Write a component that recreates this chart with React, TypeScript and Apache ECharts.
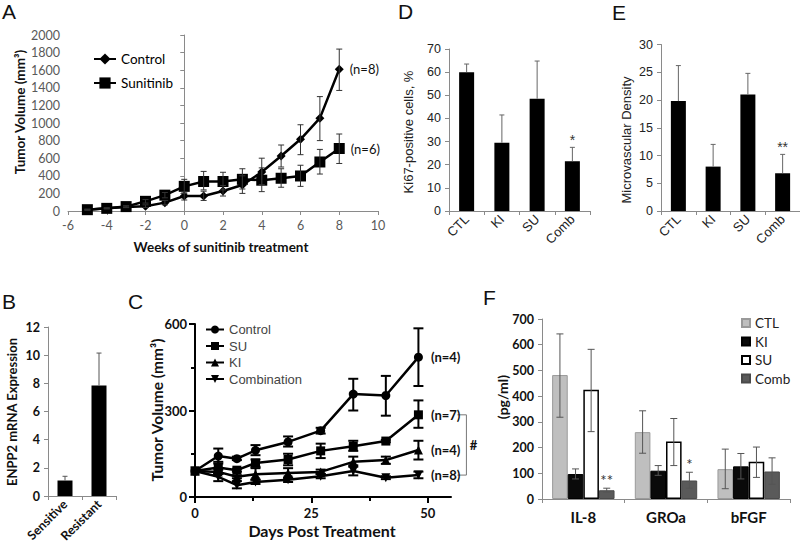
import { useEffect, useRef } from "react";
import * as echarts from "echarts";

// ---------- Panel A ----------
const weeksA = [-5, -4, -3, -2, -1, 0, 1, 2, 3, 4, 5, 6, 7, 8];
const controlA = [15, 30, 45, 55, 95, 170, 170, 227, 295, 443, 625, 815, 1055, 1610];
const controlALow = [10, 25, 38, 40, 70, 125, 120, 170, 200, 300, 500, 640, 800, 1370];
const controlAHigh = [20, 35, 55, 70, 120, 215, 225, 290, 400, 600, 750, 980, 1300, 1840];
const sunitinibA = [15, 30, 50, 110, 180, 280, 335, 335, 360, 350, 372, 398, 557, 710];
const sunitinibALow = [10, 25, 40, 90, 150, 200, 240, 240, 250, 220, 270, 280, 420, 540];
const sunitinibAHigh = [20, 35, 60, 130, 210, 360, 450, 440, 480, 490, 480, 520, 700, 875];
const nLabelsA = ["(n=8)", "(n=6)"];

// ---------- Panel D / E ----------
const catsDE = ["CTL", "KI", "SU", "Comb"];
const ki67 = [60, 29.5, 48.5, 21.5];
const ki67Err = [63.5, 41.5, 64.8, 27.5];
const ki67Sig = ["", "", "", "*"];
const mvd = [19.8, 8, 21, 6.8];
const mvdErr = [26.2, 12, 24.8, 10.2];
const mvdSig = ["", "", "", "**"];

// ---------- Panel B ----------
const catsB = ["Sensitive", "Resistant"];
const enpp2 = [1.1, 7.85];
const enpp2Err = [1.4, 10.15];

// ---------- Panel C ----------
const daysC = [0, 5, 9, 13, 20, 27, 34, 41, 48];
const controlC = [90, 142, 133, 162, 191, 230, 357, 352, 485];
const controlCLow = [90, 116, 128, 145, 175, 220, 300, 282, 385];
const controlCHigh = [90, 168, 140, 180, 210, 240, 410, 420, 585];
const suC = [90, 102, 93, 118, 130, 160, 176, 194, 285];
const suCLow = [90, 82, 88, 105, 110, 135, 160, 190, 240];
const suCHigh = [90, 122, 98, 130, 150, 185, 195, 198, 335];
const kiC = [90, 87, 70, 79, 83, 87, 122, 128, 163];
const kiCLow = [90, 80, 65, 60, 65, 80, 105, 115, 130];
const kiCHigh = [90, 95, 75, 100, 100, 95, 140, 140, 195];
const combC = [90, 70, 41, 52, 60, 72, 90, 67, 76];
const combCLow = [90, 55, 30, 45, 52, 65, 75, 62, 65];
const combCHigh = [90, 80, 55, 60, 68, 80, 110, 72, 88];
const namesC = ["Control", "SU", "KI", "Combination"];
const nLabelsC = ["(n=4)", "(n=7)", "(n=4)", "(n=8)"];
const majorTicksC = [0, 25, 50];
const minorTicksC = [12.5, 37.5];

// ---------- Panel F ----------
const cytokines = ["IL-8", "GROa", "bFGF"];
const groupsF = ["CTL", "KI", "SU", "Comb"];
const ctlF = [482, 260, 116];
const kiF = [97, 110, 127];
const suF = [425, 224, 145];
const combF = [34, 72, 107];
const ctlFLow = [318, 178, 40];
const ctlFHigh = [642, 343, 194];
const kiFLow = [78, 92, 78];
const kiFHigh = [117, 130, 177];
const suFLow = [262, 130, 84];
const suFHigh = [582, 313, 202];
const combFLow = [27, 42, 57];
const combFHigh = [42, 104, 160];
const combFSig = ["**", "*", ""];

const CAL = "Lato, 'Open Sans', sans-serif";
const ARIAL = "'Liberation Sans', Arial, sans-serif";

type ErrOpts = {
  x: number;
  rows: number[][];
  color: string;
  width: number;
  cap: number;
  offset?: number;
  upperOnly?: boolean;
  sig?: string[];
  sigFont?: string;
  sigGap?: number;
};

function errSeries(o: ErrOpts): any {
  return {
    type: "custom",
    xAxisIndex: o.x,
    yAxisIndex: o.x,
    silent: true,
    z: 5,
    data: o.rows,
    renderItem: (params: any, api: any) => {
      const xv = api.value(0);
      const lo = api.value(1);
      const hi = api.value(2);
      const p1 = api.coord([xv, lo]);
      const p2 = api.coord([xv, hi]);
      const cx = p1[0] + (o.offset || 0);
      const children: any[] = [];
      const st = { stroke: o.color, lineWidth: o.width };
      if (Math.abs(p1[1] - p2[1]) > 0.5) {
        children.push({ type: "line", shape: { x1: cx, y1: p1[1], x2: cx, y2: p2[1] }, style: st });
        children.push({ type: "line", shape: { x1: cx - o.cap / 2, y1: p2[1], x2: cx + o.cap / 2, y2: p2[1] }, style: st });
        if (!o.upperOnly)
          children.push({ type: "line", shape: { x1: cx - o.cap / 2, y1: p1[1], x2: cx + o.cap / 2, y2: p1[1] }, style: st });
      }
      const s = o.sig ? o.sig[params.dataIndex] : "";
      if (s) {
        children.push({
          type: "text",
          style: {
            text: s,
            x: cx,
            y: p2[1] - (o.sigGap ?? 2),
            align: "center",
            verticalAlign: "bottom",
            font: o.sigFont || `14px ${ARIAL}`,
            fill: "#333",
          },
        });
      }
      return { type: "group", children };
    },
  };
}

function lastLabel(xs: number[], ys: number[], text: string, font: { size: number; weight: string; family: string; dist: number }) {
  return xs.map((x, i) =>
    i === xs.length - 1
      ? {
          value: [x, ys[i]],
          label: {
            show: true,
            position: "right",
            distance: font.dist,
            formatter: text,
            fontSize: font.size,
            fontWeight: font.weight,
            fontFamily: font.family,
            color: "#111",
          },
        }
      : [x, ys[i]]
  );
}

const plain = (v: number) => String(v);

const grayAxis = (extra: any = {}) => ({
  axisLine: { show: true, lineStyle: { color: "#8a8a8a", width: 1 } },
  axisTick: { show: true, length: 4, lineStyle: { color: "#8a8a8a" } },
  splitLine: { show: false },
  ...extra,
});

export default function App() {
  const ref = useRef<HTMLDivElement>(null);
  useEffect(() => {
    if (!ref.current) return;
    const chart = echarts.init(ref.current, undefined, { renderer: "svg" });

    const grid = [
      { left: 68, top: 35, width: 310, height: 176 }, // A
      { left: 449, top: 49, width: 141, height: 162 }, // D
      { left: 661, top: 44.5, width: 139, height: 166.5 }, // E
      { left: 48, top: 327, width: 68, height: 169 }, // B
      { left: 195, top: 324, width: 256, height: 173 }, // C
      { left: 542, top: 319, width: 248, height: 180 }, // F
    ].map((g) => ({ ...g, outerBoundsMode: "none", containLabel: false }));

    const labA = { color: "#595959", fontFamily: CAL, fontSize: 12.5, margin: 8, formatter: plain };
    const labDE = { color: "#222", fontFamily: ARIAL, fontSize: 12.5, margin: 8, formatter: plain };
    const blackAxis = {
      axisLine: { show: true, lineStyle: { color: "#000", width: 2 } },
      axisTick: { show: true, length: 6, lineStyle: { color: "#000", width: 2 } },
      splitLine: { show: false },
    };
    const boldLab = { color: "#111", fontFamily: CAL, fontWeight: "bold", fontSize: 12.5, margin: 8, formatter: plain };

    const xAxis: any[] = [
      { gridIndex: 0, type: "value", min: -6, max: 10, interval: 2, ...grayAxis(), axisLabel: labA },
      { gridIndex: 1, type: "category", data: catsDE, ...grayAxis(), axisLabel: { ...labDE, formatter: undefined, rotate: 45, fontSize: 13, margin: 6 } },
      { gridIndex: 2, type: "category", data: catsDE, ...grayAxis(), axisLabel: { ...labDE, formatter: undefined, rotate: 45, fontSize: 13, margin: 6 } },
      { gridIndex: 3, type: "category", data: catsB, ...grayAxis(), axisLabel: { ...boldLab, formatter: undefined, rotate: 45, margin: 6 } },
      {
        gridIndex: 4, type: "value", min: 0, max: 55, position: "bottom", ...blackAxis,
        axisTick: { ...blackAxis.axisTick, customValues: majorTicksC },
        axisLabel: { ...boldLab, customValues: majorTicksC, fontSize: 13, margin: 9 },
      },
      { gridIndex: 5, type: "category", data: cytokines, ...grayAxis(), axisLabel: { color: "#111", fontFamily: CAL, fontWeight: "bold", fontSize: 15, margin: 10 } },
      // minor ticks for C
      {
        gridIndex: 4, type: "value", min: 0, max: 55, position: "bottom", offset: 0,
        axisLine: { show: false }, splitLine: { show: false },
        axisTick: { show: true, length: 4, customValues: minorTicksC, lineStyle: { color: "#000", width: 2 } },
        axisLabel: { show: false },
      },
    ];
    const yAxis: any[] = [
      { gridIndex: 0, type: "value", min: 0, max: 2000, interval: 200, ...grayAxis(), axisLabel: labA },
      { gridIndex: 1, type: "value", min: 0, max: 70, interval: 10, ...grayAxis(), axisLabel: labDE },
      { gridIndex: 2, type: "value", min: 0, max: 30, interval: 5, ...grayAxis(), axisLabel: labDE },
      { gridIndex: 3, type: "value", min: 0, max: 12, interval: 2, ...grayAxis(), axisLabel: boldLab },
      {
        gridIndex: 4, type: "value", min: 0, max: 600, interval: 300, ...blackAxis,
        minorTick: { show: true, splitNumber: 2, length: 4, lineStyle: { color: "#000", width: 2 } },
        axisLabel: { ...boldLab, fontSize: 13, margin: 8 },
      },
      { gridIndex: 5, type: "value", min: 0, max: 700, interval: 100, ...grayAxis(), axisLabel: boldLab },
    ];

    const series: any[] = [];

    // Panel A
    series.push({
      type: "line", name: "Control", xAxisIndex: 0, yAxisIndex: 0,
      data: lastLabel(weeksA, controlA, nLabelsA[0], { size: 13, weight: "normal", family: CAL, dist: 6 }),
      symbol: "diamond", symbolSize: 9, lineStyle: { color: "#000", width: 2.5 }, itemStyle: { color: "#000" }, z: 3,
    });
    series.push({
      type: "line", name: "Sunitinib", xAxisIndex: 0, yAxisIndex: 0,
      data: lastLabel(weeksA, sunitinibA, nLabelsA[1], { size: 13, weight: "normal", family: CAL, dist: 6 }),
      symbol: "rect", symbolSize: 11, lineStyle: { color: "#000", width: 2.5 }, itemStyle: { color: "#000" }, z: 3,
    });
    series.push(errSeries({ x: 0, rows: weeksA.map((w, i) => [w, controlALow[i], controlAHigh[i]]), color: "#333", width: 1, cap: 6 }));
    series.push(errSeries({ x: 0, rows: weeksA.map((w, i) => [w, sunitinibALow[i], sunitinibAHigh[i]]), color: "#333", width: 1, cap: 6 }));

    // Panel D
    series.push({ type: "bar", name: "Ki67", xAxisIndex: 1, yAxisIndex: 1, data: ki67, barWidth: 15, itemStyle: { color: "#000" } });
    series.push(errSeries({ x: 1, rows: ki67.map((v, i) => [i, v, ki67Err[i]]), color: "#666", width: 1, cap: 5, upperOnly: true, sig: ki67Sig, sigFont: `14px ${ARIAL}`, sigGap: 0 }));
    // Panel E
    series.push({ type: "bar", name: "MVD", xAxisIndex: 2, yAxisIndex: 2, data: mvd, barWidth: 15, itemStyle: { color: "#000" } });
    series.push(errSeries({ x: 2, rows: mvd.map((v, i) => [i, v, mvdErr[i]]), color: "#666", width: 1, cap: 5, upperOnly: true, sig: mvdSig, sigFont: `14px ${ARIAL}`, sigGap: 0 }));
    // Panel B
    series.push({ type: "bar", name: "ENPP2", xAxisIndex: 3, yAxisIndex: 3, data: enpp2, barWidth: 15, itemStyle: { color: "#000" } });
    series.push(errSeries({ x: 3, rows: enpp2.map((v, i) => [i, v, enpp2Err[i]]), color: "#555", width: 1, cap: 5, upperOnly: true }));

    // Panel C
    const cVals = [controlC, suC, kiC, combC];
    const cLow = [controlCLow, suCLow, kiCLow, combCLow];
    const cHigh = [controlCHigh, suCHigh, kiCHigh, combCHigh];
    const cSym = ["circle", "rect", "triangle", "triangle"];
    const cRot = [0, 0, 0, 180];
    namesC.forEach((n, k) => {
      series.push({
        type: "line", name: "C:" + n, xAxisIndex: 4, yAxisIndex: 4,
        data: lastLabel(daysC, cVals[k], nLabelsC[k], { size: 13, weight: "bold", family: CAL, dist: 8 }),
        symbol: cSym[k], symbolRotate: cRot[k], symbolSize: 9,
        lineStyle: { color: "#000", width: 2.5 }, itemStyle: { color: "#000" }, z: 3,
      });
      series.push(errSeries({ x: 4, rows: daysC.map((d, i) => [d, cLow[k][i], cHigh[k][i]]), color: "#000", width: 2, cap: 10 }));
    });
    // bracket "#"
    series.push({
      type: "custom", xAxisIndex: 4, yAxisIndex: 4, silent: true,
      data: [[daysC[daysC.length - 1], suC[suC.length - 1], combC[combC.length - 1]]],
      renderItem: (_p: any, api: any) => {
        const a = api.coord([api.value(0), api.value(1)]);
        const b = api.coord([api.value(0), api.value(2)]);
        const x1 = a[0] + 39, x2 = a[0] + 48;
        return {
          type: "group",
          children: [
            { type: "polyline", shape: { points: [[x1, a[1]], [x2, a[1]], [x2, b[1]], [x1, b[1]]] }, style: { stroke: "#777", lineWidth: 1, fill: null } },
            { type: "text", style: { text: "#", x: x2 + 7, y: (a[1] + b[1]) / 2, align: "center", verticalAlign: "middle", font: `bold 13px ${CAL}`, fill: "#111" } },
          ],
        };
      },
    });

    // Panel F
    const fVals = [ctlF, kiF, suF, combF];
    const fLow = [ctlFLow, kiFLow, suFLow, combFLow];
    const fHigh = [ctlFHigh, kiFHigh, suFHigh, combFHigh];
    const fStyle = [
      { color: "#bfbfbf", borderColor: "#9a9a9a", borderWidth: 1 },
      { color: "#0a0a0a", borderColor: "#000", borderWidth: 1 },
      { color: "#ffffff", borderColor: "#000", borderWidth: 1.5 },
      { color: "#5a5a5a", borderColor: "#4a4a4a", borderWidth: 1 },
    ];
    const barW = 15.6;
    groupsF.forEach((g, k) => {
      series.push({ type: "bar", name: g, xAxisIndex: 5, yAxisIndex: 5, data: fVals[k], barWidth: barW, barGap: "0%", itemStyle: fStyle[k] });
    });
    groupsF.forEach((_g, k) => {
      series.push(errSeries({
        x: 5, rows: cytokines.map((_c, i) => [i, fLow[k][i], fHigh[k][i]]), color: "#555", width: 1, cap: 7,
        offset: (k - 1.5) * barW, sig: k === 3 ? combFSig : undefined, sigFont: `15px ${CAL}`, sigGap: 1,
      }));
    });

    const txt = (text: string, x: number, y: number, font: string, rot = 0, fill = "#111") => ({
      type: "text", x, y, rotation: rot,
      style: { text, x: 0, y: 0, align: "center", verticalAlign: "middle", font, fill },
    });
    const letter = (t: string, x: number, y: number) => ({
      type: "text", x, y, style: { text: t, font: `21px ${ARIAL}`, fill: "#111", align: "left", verticalAlign: "top" },
    });

    const graphic = [
      letter("A", 2, 1),
      letter("D", 398, 1),
      letter("E", 612, 2),
      letter("B", 2, 291),
      letter("C", 128, 291),
      letter("F", 483, 287),
      txt("Tumor Volume (mm³)", 20, 112, `bold 13.5px ${CAL}`, Math.PI / 2),
      txt("Weeks of sunitinib treatment", 221, 247, `bold 13.5px ${CAL}`),
      txt("Ki67-positive cells, %", 408, 132, `13px ${ARIAL}`, Math.PI / 2, "#222"),
      txt("Microvascular Density", 626, 140, `13px ${ARIAL}`, Math.PI / 2, "#222"),
      txt("ENPP2 mRNA Expression", 12, 412, `bold 13px ${CAL}`, Math.PI / 2),
      txt("Tumor Volume (mm³)", 157, 410, `bold 15.5px ${CAL}`, Math.PI / 2),
      txt("Days Post Treatment", 322, 530, `bold 16px ${CAL}`),
      txt("(pg/ml)", 502, 397, `bold 14px ${CAL}`, Math.PI / 2),
    ];

    chart.setOption({
      animation: false,
      backgroundColor: "#ffffff",
      grid,
      xAxis,
      yAxis,
      series,
      graphic,
      legend: [
        {
          data: ["Control", "Sunitinib"], orient: "vertical", left: 88, top: 47,
          itemWidth: 22, itemHeight: 14, itemGap: 10, selectedMode: false,
          textStyle: { fontFamily: CAL, fontSize: 13.5, color: "#000" },
        },
        {
          data: namesC.map((n) => "C:" + n), orient: "vertical", left: 200, top: 318,
          itemWidth: 18, itemHeight: 10, itemGap: 3.5, selectedMode: false,
          formatter: (n: string) => n.slice(2),
          textStyle: { fontFamily: ARIAL, fontSize: 13, color: "#444" },
        },
        {
          data: groupsF, orient: "vertical", left: 736, top: 311, icon: "rect",
          itemWidth: 8, itemHeight: 8, itemGap: 4.5, selectedMode: false,
          textStyle: { fontFamily: CAL, fontSize: 13.5, color: "#222" },
        },
      ],
    });
    return () => chart.dispose();
  }, []);
  return <div ref={ref} style={{ position: "fixed", left: 0, top: 0, width: 800, height: 556 }} />;
}
